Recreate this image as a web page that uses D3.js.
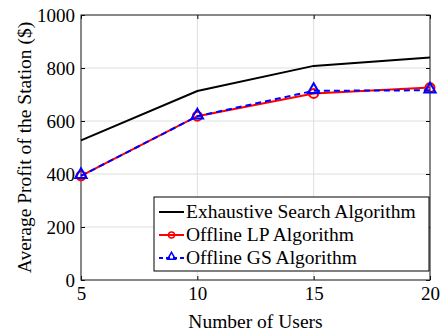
<!DOCTYPE html>
<html>
<head>
<meta charset="UTF-8">
<style>
  body { margin: 0; background: #fff; }
  svg text { fill: #000; }
</style>
</head>
<body>
<svg></svg>
<script src="https://d3js.org/d3.v7.min.js"></script>
<script>
  const users = [5, 10, 15, 20];
  const exhaustive = [527, 713, 808, 840];
  const offlineLP = [393, 618, 704, 726];
  const offlineGS = [393, 618, 714, 716];
  const yTicks = [0, 200, 400, 600, 800, 1000];
  const xTicks = [5, 10, 15, 20];

  const serif = "'Liberation Serif', 'Times New Roman', serif";
  const width = 447, height = 336;
  const m = { left: 81, right: 17, top: 15, bottom: 56 };

  const svg = d3.select("svg").attr("width", width).attr("height", height)
    .style("font-family", serif);

  const x = d3.scaleLinear().domain([5, 20]).range([m.left, width - m.right]);
  const y = d3.scaleLinear().domain([0, 1000]).range([height - m.bottom, m.top]);

  // grid
  svg.append("g").selectAll("line.gx")
    .data(xTicks).enter().append("line")
    .attr("x1", d => x(d)).attr("x2", d => x(d))
    .attr("y1", y(0)).attr("y2", y(1000))
    .attr("stroke", "#dedede").attr("stroke-width", 1);
  svg.append("g").selectAll("line.gy")
    .data(yTicks).enter().append("line")
    .attr("x1", x(5)).attr("x2", x(20))
    .attr("y1", d => y(d)).attr("y2", d => y(d))
    .attr("stroke", "#dedede").attr("stroke-width", 1);

  // axes
  const tickLen = 4;
  const fixText = g => {
    g.attr("font-family", null).attr("font-size", null);
    g.select(".domain").remove();
    g.selectAll("text").style("font-family", serif).style("font-size", "19px");
  };
  svg.append("g").attr("transform", `translate(0,${y(0)})`)
    .call(d3.axisBottom(x).tickValues(xTicks).tickFormat(d3.format("d")).tickSizeInner(-tickLen).tickSizeOuter(0).tickPadding(7))
    .call(fixText);
  svg.append("g").attr("transform", `translate(0,${y(1000)})`)
    .call(d3.axisTop(x).tickValues(xTicks).tickSizeInner(-tickLen).tickSizeOuter(0).tickFormat(""))
    .call(fixText);
  svg.append("g").attr("transform", `translate(${x(5)},0)`)
    .call(d3.axisLeft(y).tickValues(yTicks).tickFormat(d3.format("d")).tickSizeInner(-tickLen).tickSizeOuter(0).tickPadding(6))
    .call(fixText);
  svg.append("g").attr("transform", `translate(${x(20)},0)`)
    .call(d3.axisRight(y).tickValues(yTicks).tickSizeInner(-tickLen).tickSizeOuter(0).tickFormat(""))
    .call(fixText);

  svg.append("rect")
    .attr("x", x(5)).attr("y", y(1000))
    .attr("width", x(20) - x(5)).attr("height", y(0) - y(1000))
    .attr("fill", "none").attr("stroke", "#222").attr("stroke-width", 1);

  // labels
  svg.append("text")
    .attr("x", (x(5) + x(20)) / 2).attr("y", 328)
    .attr("text-anchor", "middle").style("font-size", "19.5px")
    .text("Number of Users");
  svg.append("text")
    .attr("transform", `translate(31,${(y(0) + y(1000)) / 2}) rotate(-90)`)
    .attr("text-anchor", "middle").style("font-size", "19.5px")
    .text("Average Profit of the Station ($)");

  const line = d3.line().x((d, i) => x(users[i])).y(d => y(d));

  svg.append("path").datum(exhaustive).attr("d", line)
    .attr("fill", "none").attr("stroke", "#000").attr("stroke-width", 2);
  svg.append("path").datum(offlineLP).attr("d", line)
    .attr("fill", "none").attr("stroke", "#ff0000").attr("stroke-width", 2);
  svg.append("g").selectAll("circle")
    .data(offlineLP).enter().append("circle")
    .attr("cx", (d, i) => x(users[i])).attr("cy", d => y(d)).attr("r", 4.5)
    .attr("fill", "none").attr("stroke", "#ff0000").attr("stroke-width", 2);
  svg.append("path").datum(offlineGS).attr("d", line)
    .attr("fill", "none").attr("stroke", "#0000ff").attr("stroke-width", 2)
    .attr("stroke-dasharray", "6,4");
  const tri = d3.symbol().type(d3.symbolTriangle).size(55);
  svg.append("g").selectAll("path")
    .data(offlineGS).enter().append("path")
    .attr("d", tri)
    .attr("transform", (d, i) => `translate(${x(users[i])},${y(d) - 1})`)
    .attr("fill", "none").attr("stroke", "#0000ff").attr("stroke-width", 2);

  // legend
  const lg = svg.append("g");
  lg.append("rect").attr("x", 154).attr("y", 197).attr("width", 275).attr("height", 74)
    .attr("fill", "#fff").attr("stroke", "#000").attr("stroke-width", 1);
  const items = [
    { name: "Exhaustive Search Algorithm", color: "#000", dash: null, marker: null },
    { name: "Offline LP Algorithm", color: "#ff0000", dash: null, marker: "circle" },
    { name: "Offline GS Algorithm", color: "#0000ff", dash: "4,3", marker: "tri" }
  ];
  items.forEach((it, i) => {
    const cy = 212 + i * 23;
    lg.append("line").attr("x1", 159).attr("x2", 184).attr("y1", cy).attr("y2", cy)
      .attr("stroke", it.color).attr("stroke-width", 2)
      .attr("stroke-dasharray", it.dash);
    if (it.marker === "circle") {
      lg.append("circle").attr("cx", 171.5).attr("cy", cy).attr("r", 3)
        .attr("fill", "none").attr("stroke", it.color).attr("stroke-width", 1.5);
    } else if (it.marker === "tri") {
      lg.append("path").attr("d", d3.symbol().type(d3.symbolTriangle).size(28))
        .attr("transform", `translate(171.5,${cy - 1})`)
        .attr("fill", "none").attr("stroke", it.color).attr("stroke-width", 1.5);
    }
    lg.append("text").attr("x", 186).attr("y", cy + 6)
      .style("font-size", "19.5px").text(it.name);
  });
</script>
</body>
</html>
